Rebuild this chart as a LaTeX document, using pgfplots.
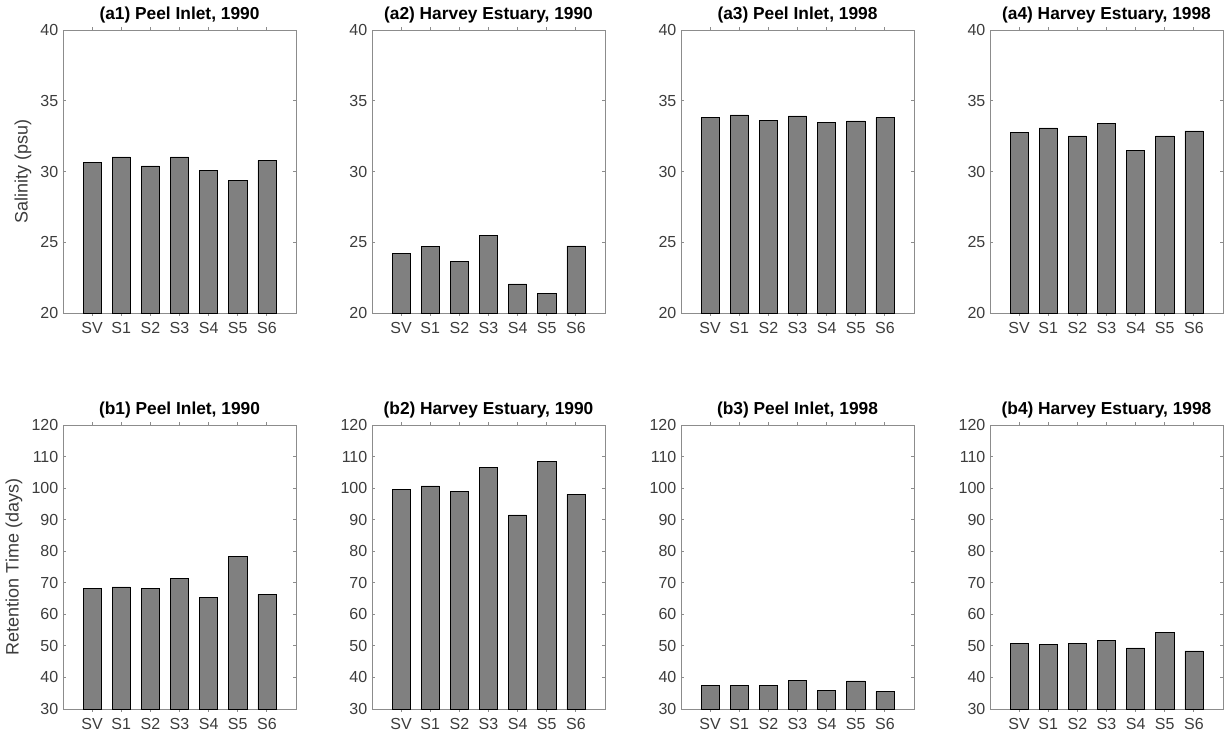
\documentclass[border=0pt]{standalone}
\usepackage{fontspec}
\setmainfont{Liberation Sans}
\usepackage{pgfplots}
\pgfplotsset{compat=1.18}

\definecolor{barfill}{RGB}{128,128,128}
\definecolor{baredge}{RGB}{45,45,45}
\definecolor{axline}{RGB}{140,140,140}
\definecolor{ticktext}{RGB}{60,60,60}

\pgfplotsset{
  panel/.style={
    scale only axis, width=174.75pt,
    xmin=0, xmax=8, xtick={1,...,7},
    xticklabels={SV,S1,S2,S3,S4,S5,S6},
    xticklabel pos=lower, yticklabel pos=left,
    tick align=inside, tick pos=both, major tick length=2.2pt,
    axis line style={axline, line width=0.6pt},
    every tick/.style={axline, line width=0.6pt},
    tick label style={font=\fontsize{12}{14}\selectfont, text=ticktext},
    xticklabel style={yshift=-1pt},
    title style={font=\bfseries\fontsize{13}{15}\selectfont, yshift=-4pt},
    ylabel style={font=\fontsize{13.5}{16}\selectfont, text=ticktext},
    /pgf/number format/assume math mode=true,
    ybar, bar width=0.62,
    cycle list={{fill=barfill, draw=baredge, line width=0.5pt}},
  },
  salt/.style={panel, height=212.25pt, ymin=20, ymax=40, ytick={20,25,...,40}},
  rt/.style={panel, height=213pt, ymin=30, ymax=120, ytick={30,40,...,120}},
}

\begin{document}
\begin{tikzpicture}
\useasboundingbox (0pt,0pt) rectangle (918pt,-551.25pt);

% ---- salinity, top row ----
\begin{axis}[salt, at={(47.25pt,-234.75pt)}, anchor=south west,
  title={(a1) Peel Inlet, 1990}, ylabel={Salinity (psu)}]
\addplot coordinates {(1,30.66) (2,31.04) (3,30.40) (4,31.04) (5,30.07) (6,29.39) (7,30.78)};
\end{axis}

\begin{axis}[salt, at={(279pt,-234.75pt)}, anchor=south west,
  title={(a2) Harvey Estuary, 1990}]
\addplot coordinates {(1,24.19) (2,24.70) (3,23.65) (4,25.48) (5,22.05) (6,21.39) (7,24.75)};
\end{axis}

\begin{axis}[salt, at={(510.75pt,-234.75pt)}, anchor=south west,
  title={(a3) Peel Inlet, 1998}]
\addplot coordinates {(1,33.81) (2,34.00) (3,33.60) (4,33.93) (5,33.48) (6,33.58) (7,33.81)};
\end{axis}

\begin{axis}[salt, at={(742.5pt,-234.75pt)}, anchor=south west,
  title={(a4) Harvey Estuary, 1998}]
\addplot coordinates {(1,32.75) (2,33.08) (3,32.52) (4,33.39) (5,31.48) (6,32.52) (7,32.87)};
\end{axis}

% ---- retention time, bottom row ----
\begin{axis}[rt, at={(47.25pt,-531.75pt)}, anchor=south west,
  title={(b1) Peel Inlet, 1990}, ylabel={Retention Time (days)}]
\addplot coordinates {(1,68.3) (2,68.7) (3,68.2) (4,71.4) (5,65.4) (6,78.4) (7,66.3)};
\end{axis}

\begin{axis}[rt, at={(279pt,-531.75pt)}, anchor=south west,
  title={(b2) Harvey Estuary, 1990}]
\addplot coordinates {(1,99.7) (2,100.7) (3,98.9) (4,106.6) (5,91.5) (6,108.5) (7,98.0)};
\end{axis}

\begin{axis}[rt, at={(510.75pt,-531.75pt)}, anchor=south west,
  title={(b3) Peel Inlet, 1998}]
\addplot coordinates {(1,37.5) (2,37.5) (3,37.5) (4,39.1) (5,36.0) (6,38.9) (7,35.6)};
\end{axis}

\begin{axis}[rt, at={(742.5pt,-531.75pt)}, anchor=south west,
  title={(b4) Harvey Estuary, 1998}]
\addplot coordinates {(1,50.8) (2,50.4) (3,50.9) (4,51.65) (5,49.4) (6,54.2) (7,48.4)};
\end{axis}
\end{tikzpicture}
\end{document}
